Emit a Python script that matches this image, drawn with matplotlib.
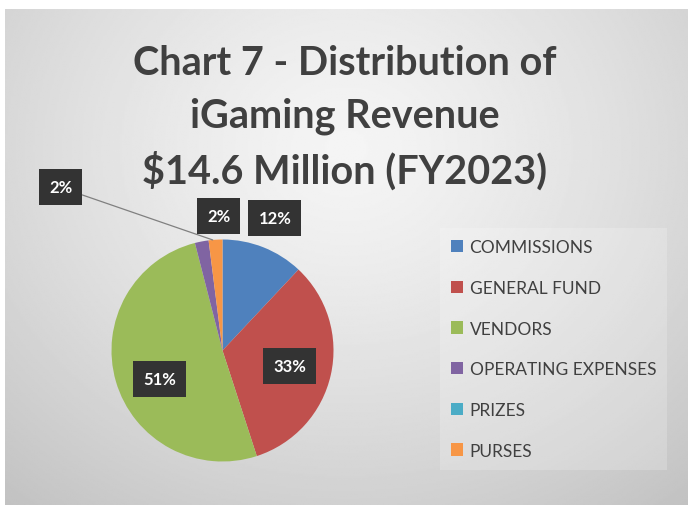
"""
Chart 7 - pie of iGaming revenue distribution, FY2023.
"""

import numpy as np
import matplotlib
matplotlib.use("Agg")
import matplotlib.pyplot as plt
from matplotlib.patches import Patch


# Data
categories = ["COMMISSIONS", "GENERAL FUND", "VENDORS",
              "OPERATING EXPENSES", "PRIZES", "PURSES"]
shares = [12, 33, 51, 2, 0, 2]
pct_labels = ["12%", "33%", "51%", "2%", "", "2%"]
colors = ["#4F81BD", "#C0504D", "#9BBB59", "#8064A2", "#4BACC6", "#F79646"]
title = "Chart 7 - Distribution of\niGaming Revenue\n$14.6 Million (FY2023)"

W, H = 691, 506
fig = plt.figure(figsize=(W / 100, H / 100), dpi=100)

# background: soft radial gradient inside a frame
bg = fig.add_axes([5 / W, 0, (688 - 5) / W, (H - 10) / H])
yy, xx = np.mgrid[0:1:300j, 0:1:400j]
d = np.sqrt(((xx - 0.5) / 0.75) ** 2 + ((yy - 0.28) / 0.9) ** 2)
shade = 0.96 - 0.19 * np.clip(d, 0, 1.2) ** 1.3
bg.imshow(shade, cmap="gray", vmin=0, vmax=1, aspect="auto",
          extent=[0, 1, 0, 1], origin="upper")
bg.set_axis_off()

fig.text(345 / W, 1 - 118 / H, title, ha="center", va="center",
         fontsize=28.5, fontweight="bold", family="Lato", color="#404040",
         linespacing=1.5)

# pie
cx, cy, r = 222.5, 351.5, 111
ax = fig.add_axes([(cx - r) / W, (H - cy - r) / H, 2 * r / W, 2 * r / H])
wedges, _ = ax.pie(shares, colors=colors, startangle=90, counterclock=False,
                   radius=1, wedgeprops=dict(linewidth=0))
ax.set_xlim(-1, 1)
ax.set_ylim(-1, 1)
ax.set_aspect("equal")
ax.set_axis_off()

# label distance from centre and angle nudge (degrees) per slice
label_r = [1.28, 0.62, 0.62, 2.07, 0, 1.21]
label_da = [0, 0, 8, 34, 0, -2]
box = dict(boxstyle="square,pad=0.6", fc="#333333", ec="none")
for w, lab, lr, da in zip(wedges, pct_labels, label_r, label_da):
    if not lab:
        continue
    mid = np.deg2rad((w.theta1 + w.theta2) / 2)
    ang = mid + np.deg2rad(da)
    tx, ty = lr * np.cos(ang), lr * np.sin(ang)
    if lr > 1.6:
        ax.annotate(lab, xy=(np.cos(mid - 0.1), np.sin(mid - 0.1)),
                    xytext=(tx, ty), ha="center", va="center",
                    fontsize=12, fontweight="bold", family="Lato",
                    color="white", bbox=box, annotation_clip=False,
                    arrowprops=dict(arrowstyle="-", color="#808080", lw=0.9,
                                    shrinkA=0, shrinkB=0))
    else:
        ax.text(tx, ty, lab, ha="center", va="center", fontsize=12,
                fontweight="bold", family="Lato", color="white", bbox=box)

# legend
handles = [Patch(facecolor=c, edgecolor="none") for c in colors]
leg = fig.legend(handles, categories, loc="upper left",
                 bbox_to_anchor=(440 / W, 1 - 229 / H),
                 frameon=True, fancybox=False,
                 prop=dict(family="Lato", size=12.5),
                 handlelength=0.7, handleheight=0.7, handletextpad=0.35,
                 labelspacing=1.42, borderpad=0.65, borderaxespad=0)
leg.get_frame().set_facecolor("white")
leg.get_frame().set_alpha(0.2)
leg.get_frame().set_edgecolor("none")
for t in leg.get_texts():
    t.set_color("#404040")

fig.savefig("out.png", dpi=100)
